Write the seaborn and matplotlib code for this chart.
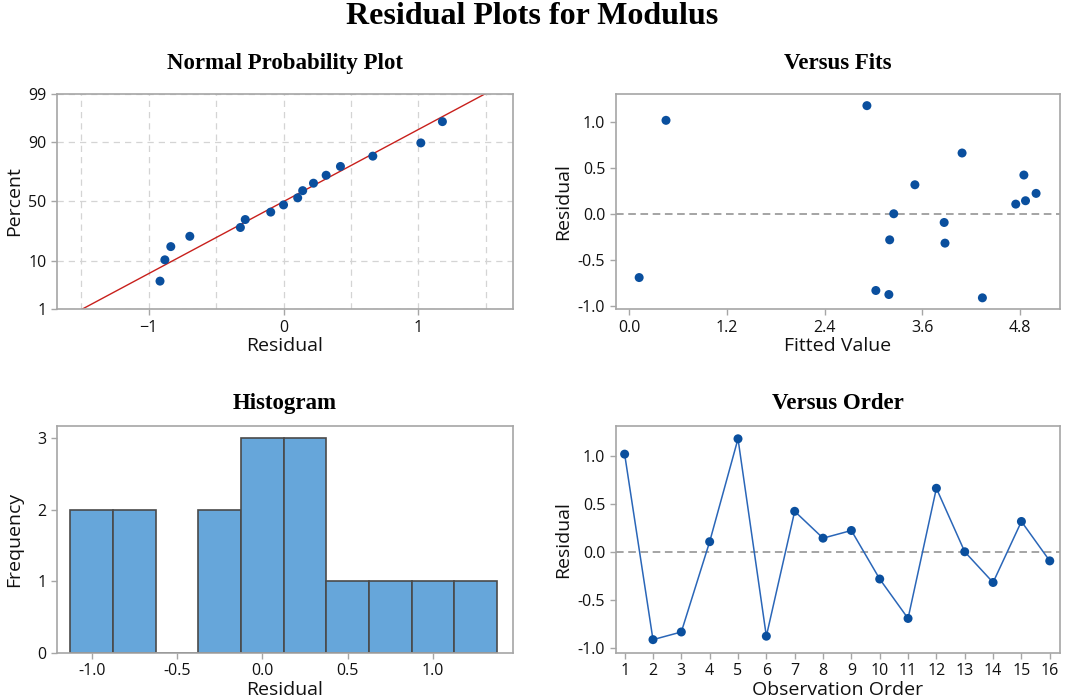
import numpy as np
import pandas as pd
import matplotlib
matplotlib.use("Agg")
import matplotlib.pyplot as plt
import seaborn as sns
from statistics import NormalDist

# residuals in observation order, and the fitted values that go with them
observation = list(range(1, 17))
residual = [1.018, -0.916, -0.836, 0.105, 1.178, -0.880, 0.422, 0.142,
            0.222, -0.284, -0.695, 0.662, 0.000, -0.320, 0.316, -0.095]
fitted = [0.45, 4.34, 3.03, 4.75, 2.92, 3.19, 4.85, 4.87,
          5.00, 3.20, 0.12, 4.09, 3.25, 3.88, 3.51, 3.87]

pct_ticks = [1, 10, 50, 90, 99]
hist_edges = [-1.125, -0.875, -0.625, -0.375, -0.125, 0.125, 0.375, 0.625, 0.875, 1.125, 1.375]

df = pd.DataFrame({"Order": observation, "Residual": residual, "Fit": fitted})

sns.set_style("white")
plt.rcParams['font.family'] = ['Open Sans', 'DejaVu Sans']
plt.rcParams['text.color'] = 'black'
plt.rcParams['axes.labelcolor'] = '#111111'

dot = "#0a4f9e"
spine = "#a6a6a6"
title_font = dict(family="Liberation Serif", fontweight="bold", fontsize=16.5, color="black")
tick_size = 11.5
label_size = 14
msize = 42

fig = plt.figure(figsize=(10.65, 6.98), dpi=100)
fig.text(0.5, 0.977, "Residual Plots for Modulus", ha="center", va="center",
         family="Liberation Serif", fontweight="bold", fontsize=23, color="black")

ax1 = fig.add_axes([0.0535, 0.557, 0.428, 0.309])
ax2 = fig.add_axes([0.578, 0.557, 0.417, 0.309])
ax3 = fig.add_axes([0.0535, 0.0645, 0.428, 0.325])
ax4 = fig.add_axes([0.578, 0.0645, 0.417, 0.325])


def style(ax):
    for s in ax.spines.values():
        s.set_color(spine)
        s.set_linewidth(1.2)
    ax.tick_params(axis="both", which="major", direction="out", length=4, width=1,
                   color=spine, labelsize=tick_size, labelcolor="#111111", bottom=True, left=True)


# Normal probability plot
nd = NormalDist()
srt = np.sort(df["Residual"].to_numpy())
n = len(srt)
ranks = np.arange(1, n + 1)
z = np.array([nd.inv_cdf((i - 0.3) / (n + 0.4)) for i in ranks])
npp = pd.DataFrame({"Residual": srt, "z": z})
mu, sd = srt.mean(), srt.std(ddof=1)
zmin, zmax = nd.inv_cdf(0.01), nd.inv_cdf(0.99)
zz = np.linspace(nd.inv_cdf(0.005), nd.inv_cdf(0.995), 50)
ax1.plot(mu + sd * zz, zz, color="#c8201c", lw=1.0, zorder=2)
sns.scatterplot(data=npp, x="Residual", y="z", color=dot, s=msize, edgecolor="none", ax=ax1, zorder=3)
ax1.set_ylim(zmin, zmax)
ax1.set_xlim(-1.68, 1.70)
ax1.set_yticks([nd.inv_cdf(p / 100) for p in pct_ticks])
ax1.set_yticklabels([str(p) for p in pct_ticks])
ax1.set_xticks([-1, 0, 1])
ax1.set_xticks([-1.5, -0.5, 0.5, 1.5], minor=True)
ax1.tick_params(axis="x", which="minor", length=0)
ax1.grid(True, which="both", axis="x", color="#d4d4d4", ls=(0, (5, 4)), lw=0.9)
ax1.grid(True, which="major", axis="y", color="#d4d4d4", ls=(0, (5, 4)), lw=0.9)
ax1.set_axisbelow(True)
ax1.set_title("Normal Probability Plot", pad=18, **title_font)
ax1.set_xlabel("Residual", fontsize=label_size, labelpad=1)
ax1.set_ylabel("Percent", fontsize=label_size, labelpad=4)
style(ax1)

# Versus fits
ax2.axhline(0, color="#8c8c8c", ls=(0, (5, 3)), lw=1.1, zorder=1)
sns.scatterplot(data=df, x="Fit", y="Residual", color=dot, s=msize, edgecolor="none", ax=ax2, zorder=3)
ax2.set_xlim(-0.17, 5.29)
ax2.set_ylim(-1.04, 1.31)
ax2.set_xticks([0.0, 1.2, 2.4, 3.6, 4.8])
ax2.set_xticklabels(["0.0", "1.2", "2.4", "3.6", "4.8"])
ax2.set_yticks([-1.0, -0.5, 0.0, 0.5, 1.0])
ax2.set_yticklabels(["-1.0", "-0.5", "0.0", "0.5", "1.0"])
ax2.set_title("Versus Fits", pad=18, **title_font)
ax2.set_xlabel("Fitted Value", fontsize=label_size, labelpad=1)
ax2.set_ylabel("Residual", fontsize=label_size, labelpad=4)
style(ax2)

# Histogram
sns.histplot(data=df, x="Residual", bins=hist_edges, color="#66a6da", edgecolor="#4a4a4a",
             linewidth=1.2, alpha=1, ax=ax3)
ax3.set_xlim(-1.203, 1.467)
ax3.set_ylim(0, 3.17)
ax3.set_yticks([0, 1, 2, 3])
ax3.set_xticks([-1.0, -0.5, 0.0, 0.5, 1.0])
ax3.set_xticklabels(["-1.0", "-0.5", "0.0", "0.5", "1.0"])
ax3.set_title("Histogram", pad=12, **title_font)
ax3.set_xlabel("Residual", fontsize=label_size, labelpad=1)
ax3.set_ylabel("Frequency", fontsize=label_size, labelpad=10)
style(ax3)

# Versus order
ax4.axhline(0, color="#8c8c8c", ls=(0, (5, 3)), lw=1.1, zorder=1)
sns.lineplot(data=df, x="Order", y="Residual", color="#2a66b8", lw=1.1, ax=ax4, zorder=2)
sns.scatterplot(data=df, x="Order", y="Residual", color=dot, s=msize, edgecolor="none", ax=ax4, zorder=3)
ax4.set_xlim(0.68, 16.35)
ax4.set_ylim(-1.055, 1.31)
ax4.set_xticks(observation)
ax4.set_yticks([-1.0, -0.5, 0.0, 0.5, 1.0])
ax4.set_yticklabels(["-1.0", "-0.5", "0.0", "0.5", "1.0"])
ax4.set_title("Versus Order", pad=12, **title_font)
ax4.set_xlabel("Observation Order", fontsize=label_size, labelpad=1)
ax4.set_ylabel("Residual", fontsize=label_size, labelpad=4)
style(ax4)

fig.savefig("out.png", dpi=100)
